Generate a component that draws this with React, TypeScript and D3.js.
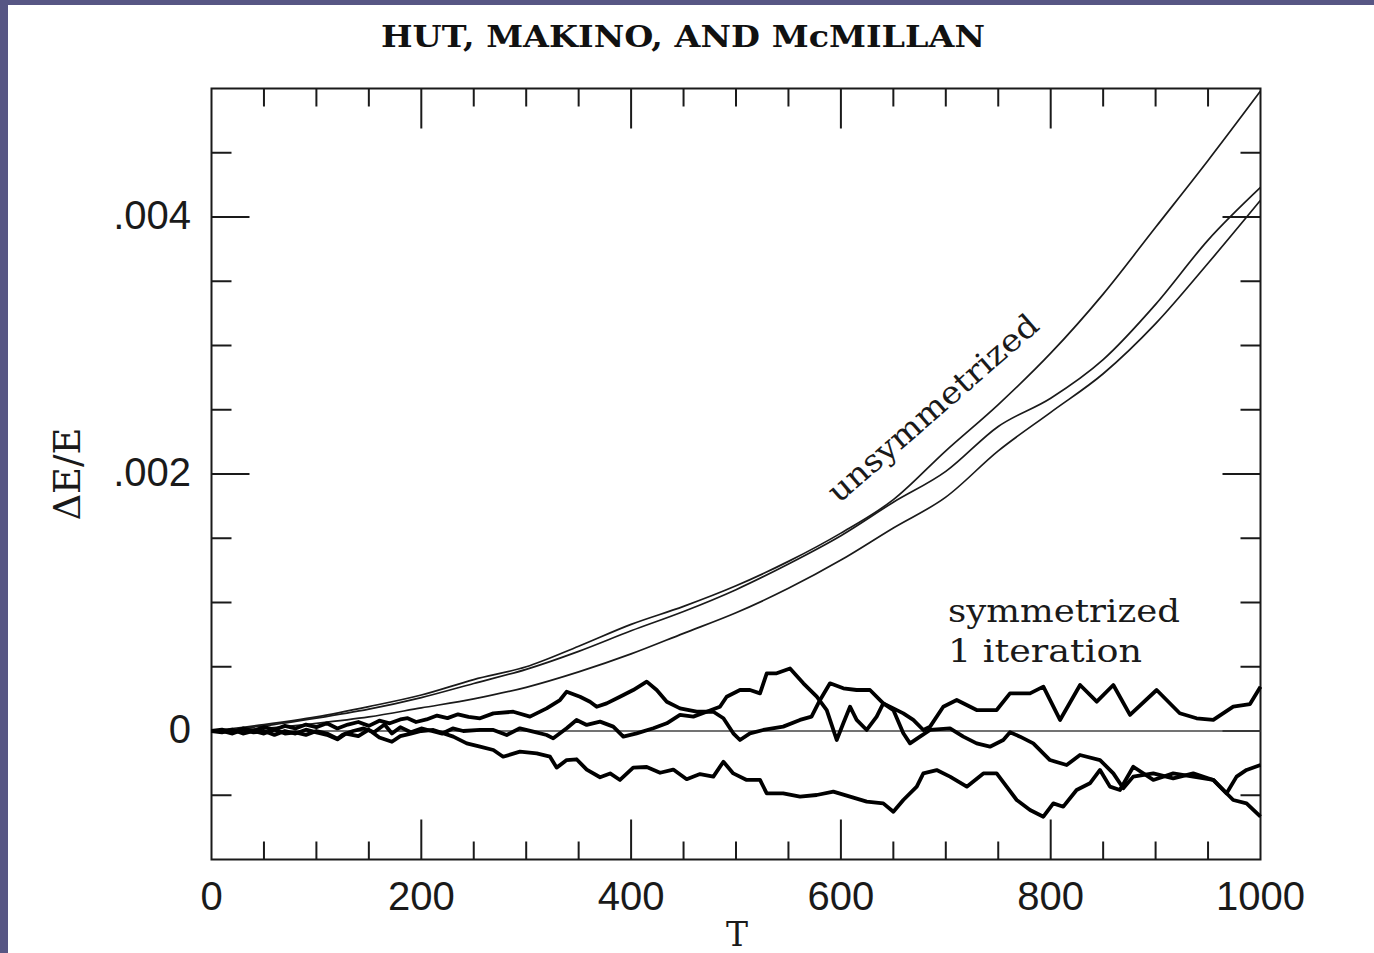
import React from 'react';
import * as d3 from 'd3';

const W = 1374;
const H = 953;

// axes
const xDomain = [0, 1000];
const yDomain = [-0.001, 0.005];
const xTickValues = [0, 200, 400, 600, 800, 1000];
const xTickText = ['0', '200', '400', '600', '800', '1000'];
const yTickValues = [0, 0.002, 0.004];
const yTickText = ['0', '.002', '.004'];
const xMinorStep = 50;
const yMinorStep = 0.0005;

// unsymmetrized runs: [T, dE/E x 1e-3]
const unsymT = [0, 50, 100, 150, 200, 250, 300, 350, 400, 450, 500, 550, 600, 650, 700, 750, 800, 850, 900, 950, 1000];
const unsymA = [0, 0.05, 0.11, 0.19, 0.28, 0.40, 0.50, 0.66, 0.83, 0.97, 1.13, 1.32, 1.54, 1.80, 2.18, 2.54, 2.94, 3.40, 3.92, 4.44, 4.98];
const unsymB = [0, 0.04, 0.10, 0.17, 0.26, 0.37, 0.48, 0.62, 0.78, 0.93, 1.10, 1.30, 1.52, 1.78, 2.02, 2.37, 2.59, 2.89, 3.32, 3.82, 4.23];
const unsymC = [0, 0.02, 0.06, 0.11, 0.18, 0.25, 0.34, 0.46, 0.60, 0.76, 0.92, 1.11, 1.33, 1.58, 1.82, 2.18, 2.48, 2.78, 3.17, 3.64, 4.13];

// symmetrized (1 iteration) runs: [T, dE/E x 1e-3]
const symA: [number, number][] = [
  [0, 0], [10, -0.01], [20, 0.01], [30, -0.02], [40, 0], [50, -0.02], [60, 0.01], [70, -0.02], [80, -0.01], [90, -0.03],
  [100, 0], [110, -0.02], [120, -0.06], [125, -0.03], [135, 0], [145, 0.02], [155, -0.01], [165, 0.05], [172, -0.02], [180, 0.03],
  [190, -0.01], [200, 0.02], [210, 0], [220, -0.02], [230, 0.02], [240, 0],
  [256, 0.008], [268.7, 0.008], [281.4, -0.031], [294, 0.021], [306.8, -0.005], [319.5, -0.031], [325.8, -0.057], [338.6, 0.021],
  [348, 0.086], [357.7, 0.047], [370.4, 0.073], [383, 0.034], [392.6, -0.044], [405.3, -0.018], [421.2, 0.021], [434, 0.06],
  [446.6, 0.125], [459.3, 0.112], [472, 0.15], [484.7, 0.189], [491.1, 0.267], [503.8, 0.319],
  [513.3, 0.319], [522.9, 0.293], [529.3, 0.449], [538.8, 0.449], [551.5, 0.487], [564.2, 0.371], [577, 0.267], [586.5, 0.163],
  [592.8, 0.008], [596, -0.07], [602.3, 0.06], [608.7, 0.189], [615, 0.086], [624.6, 0.008], [634.1, 0.112], [640.4, 0.215],
  [650, 0.176], [659.5, 0.137], [669, 0.086], [678.6, 0.008], [685, 0.034], [697.6, 0.189], [710.4, 0.241], [729.4, 0.163],
  [748.5, 0.163], [761.2, 0.293], [780.3, 0.293], [793, 0.345], [808.9, 0.086], [828, 0.358], [843.9, 0.228], [859.7, 0.358],
  [875.6, 0.125], [901, 0.319], [923, 0.138], [939, 0.099], [955, 0.086], [974, 0.19], [990, 0.21], [1000, 0.345],
];

const symB: [number, number][] = [
  [0, 0], [10, 0.01], [20, -0.01], [30, 0.02], [40, 0], [50, 0.03], [60, 0.01], [70, 0.04], [80, 0.02], [90, 0.05],
  [100, 0.03], [110, 0.06], [120, 0.02], [130, 0.05], [140, 0.07], [150, 0.04], [160, 0.08], [170, 0.06], [180, 0.09], [187, 0.1],
  [195, 0.07], [205, 0.09], [215, 0.12], [225, 0.1], [235, 0.13], [245, 0.11],
  [256, 0.099], [268.7, 0.137], [287.7, 0.15], [303.6, 0.112], [319.5, 0.176], [332.2, 0.241], [338.6, 0.306], [351.3, 0.267],
  [360.8, 0.228], [367.2, 0.189], [376.7, 0.215], [389.4, 0.267], [402, 0.319], [414.9, 0.384], [424.4, 0.319], [434, 0.228],
  [446.6, 0.176], [462.5, 0.15], [478.4, 0.15], [488, 0.099], [497.4, -0.018], [503.8, -0.07],
  [513.3, -0.018], [526, 0.008], [545, 0.034], [561, 0.086], [572, 0.112], [580, 0.24], [589.6, 0.371], [602.3, 0.332],
  [615, 0.319], [627.7, 0.319], [640.4, 0.215], [650, 0.163], [659.5, -0.018], [665.9, -0.096], [675.4, -0.044], [685, 0.008],
  [704, 0.021], [716.7, -0.044], [729.4, -0.096], [742.1, -0.122], [754.8, -0.07], [761.2, -0.01], [770.8, -0.044], [783.4, -0.096],
  [799.3, -0.226], [815.2, -0.265], [827.9, -0.187], [847, -0.226], [859.7, -0.33], [869.2, -0.446], [878.7, -0.355], [897.8, -0.33],
  [916.8, -0.369], [935.9, -0.33], [955, -0.381], [964.5, -0.459], [974, -0.537], [986.7, -0.563], [1000, -0.667],
];

const symC: [number, number][] = [
  [0, 0], [10, 0], [20, -0.02], [30, 0.01], [40, -0.01], [50, 0], [60, -0.03], [70, 0], [80, -0.02], [90, 0.01],
  [100, -0.01], [110, -0.03], [120, -0.065], [128, -0.02], [140, -0.04], [150, 0.01], [160, -0.05], [172, -0.084], [180, -0.04],
  [190, -0.02], [200, 0],
  [211.5, 0.008], [230.5, -0.044], [243.3, -0.096], [256, -0.122], [268.7, -0.148], [278, -0.2], [294, -0.161], [310, -0.174],
  [322.7, -0.2], [329, -0.285], [338.6, -0.226], [348, -0.22], [357.7, -0.3], [370.4, -0.36], [380, -0.33], [389.4, -0.381],
  [402, -0.285], [414.9, -0.28], [427.6, -0.325], [440.2, -0.3], [453, -0.375], [465.7, -0.335], [478.4, -0.355], [488, -0.239],
  [497.4, -0.33], [510.2, -0.381], [522.9, -0.381],
  [529.3, -0.485], [545, -0.485], [561, -0.511], [577, -0.498], [592.8, -0.472], [608.7, -0.511], [624.6, -0.55], [640.4, -0.563],
  [650, -0.628], [659.5, -0.537], [672.3, -0.433], [678.6, -0.33], [691.3, -0.304], [704, -0.355], [720, -0.433], [735.8, -0.33],
  [748.5, -0.33], [758, -0.433], [767.6, -0.537], [780.3, -0.615],
  [793, -0.667], [802.5, -0.563], [812, -0.589], [824.7, -0.459], [837.4, -0.407], [847, -0.303], [856.5, -0.433], [866, -0.459],
  [878.7, -0.278], [897.8, -0.381], [916.8, -0.33], [935.9, -0.355], [955, -0.381], [967.7, -0.485], [977.2, -0.355], [986.7, -0.303],
  [1000, -0.264],
];

// converged run: flat at zero
const flatRun: [number, number][] = [[0, 0], [1000, 0]];

const title = 'HUT, MAKINO, AND McMILLAN';
const xLabel = 'T';
const yLabel = 'ΔE/E';
const noteUnsym = 'unsymmetrized';
const noteSym1 = 'symmetrized';
const noteSym2 = '1 iteration';

export default function App() {
  const x = d3.scaleLinear().domain(xDomain).range([211.5, 1260.5]);
  const y = d3.scaleLinear().domain(yDomain).range([859.5, 88.5]);
  const line = d3.line<[number, number]>().x(d => x(d[0])).y(d => y(d[1] * 1e-3));
  const smoothLine = d3.line<[number, number]>().x(d => x(d[0])).y(d => y(d[1] * 1e-3)).curve(d3.curveMonotoneX);

  const unsym = [unsymA, unsymB, unsymC].map(vals => unsymT.map((t, i) => [t, vals[i]] as [number, number]));
  const sym = [symA, symB, symC];

  const [x0, x1] = x.range();
  const [yb, yt] = y.range();

  const xMinor = d3.range(1, 20).map(i => i * xMinorStep);
  const yMinor = d3.range(-1, 10).map(i => i * yMinorStep);

  const serif = '"DejaVu Serif", serif';
  const sans = '"Liberation Sans", Arial, sans-serif';

  return (
    <div style={{ position: 'absolute', left: 0, top: 0, width: W, height: H }}>
      <svg width={W} height={H} style={{ display: 'block', background: '#fff' }}>
        <rect x={0} y={0} width={W} height={H} fill="#fff" />
        <rect x={0} y={0} width={8} height={H} fill="#575684" />
        <rect x={0} y={0} width={W} height={5} fill="#575684" />

        <text x={683} y={47} textAnchor="middle" fontFamily={serif} fontWeight="bold" fontSize={30}
          textLength={604} lengthAdjust="spacingAndGlyphs" fill="#111">{title}</text>

        {/* frame */}
        <rect x={x0} y={yt} width={x1 - x0} height={yb - yt} fill="none" stroke="#1a1a1a" strokeWidth={2} />

        {/* x ticks, top and bottom */}
        {xMinor.map(t => {
          const len = t % 200 === 0 ? 40 : 18;
          return (
            <g key={'xt' + t} stroke="#1a1a1a" strokeWidth={2}>
              <line x1={x(t)} x2={x(t)} y1={yb} y2={yb - len} />
              <line x1={x(t)} x2={x(t)} y1={yt} y2={yt + len} />
            </g>
          );
        })}
        {/* y ticks, left and right */}
        {yMinor.map((v, i) => {
          const k = i - 1;
          const len = k % 4 === 0 ? 38 : 20;
          return (
            <g key={'yt' + i} stroke="#1a1a1a" strokeWidth={2}>
              <line x1={x0} x2={x0 + len} y1={y(v)} y2={y(v)} />
              <line x1={x1} x2={x1 - len} y1={y(v)} y2={y(v)} />
            </g>
          );
        })}

        {xTickValues.map((t, i) => (
          <text key={'xl' + t} x={x(t)} y={910} textAnchor="middle" fontFamily={sans} fontSize={40} fill="#1a1a1a">{xTickText[i]}</text>
        ))}
        {yTickValues.map((v, i) => (
          <text key={'yl' + i} x={191} y={y(v) + 12} textAnchor="end" fontFamily={sans} fontSize={40} fill="#1a1a1a">{yTickText[i]}</text>
        ))}

        <text x={737} y={946} textAnchor="middle" fontFamily={serif} fontSize={33} fill="#1a1a1a">{xLabel}</text>
        <text transform="translate(80,474) rotate(-90)" textAnchor="middle" fontFamily={serif} fontSize={37} fill="#1a1a1a">{yLabel}</text>

        {/* flat converged run */}
        <path d={line(flatRun) || ''} fill="none" stroke="#444" strokeWidth={1.5} />

        {/* unsymmetrized */}
        {unsym.map((d, i) => (
          <path key={'u' + i} d={smoothLine(d) || ''} fill="none" stroke="#1a1a1a" strokeWidth={1.7} />
        ))}

        {/* symmetrized */}
        {sym.map((d, i) => (
          <path key={'s' + i} d={line(d) || ''} fill="none" stroke="#000" strokeWidth={3.8} strokeLinejoin="round" />
        ))}

        <text transform="translate(940,416) rotate(-41)" textAnchor="middle" fontFamily={serif} fontSize={31}
          textLength={268} lengthAdjust="spacingAndGlyphs" fill="#1a1a1a">{noteUnsym}</text>
        <text x={948} y={622} fontFamily={serif} fontSize={31} textLength={232} lengthAdjust="spacingAndGlyphs" fill="#1a1a1a">{noteSym1}</text>
        <text x={948} y={662} fontFamily={serif} fontSize={31} textLength={194} lengthAdjust="spacingAndGlyphs" fill="#1a1a1a">{noteSym2}</text>
      </svg>
    </div>
  );
}
